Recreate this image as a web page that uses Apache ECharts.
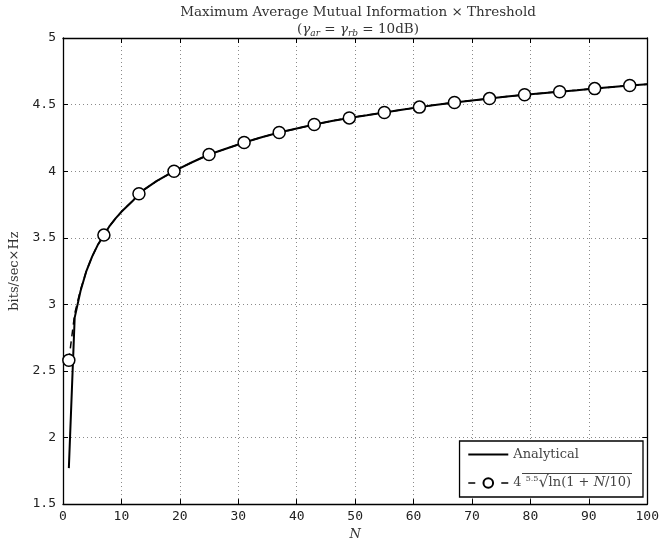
<!DOCTYPE html>
<html>
<head>
<meta charset="utf-8">
<script src="https://cdn.jsdelivr.net/npm/echarts@6/dist/echarts.min.js"></script>
<style>html,body{margin:0;padding:0;background:#fff;}#c{width:662px;height:546px;}</style>
</head>
<body>
<div id="c"></div>
<script>
// ---- data ----
const nValues = [1,2,3,4,5,6,7,8,9,10,12,13,14,16,19,22,25,28,31,34,37,40,43,46,49,52,55,58,61,64,67,70,73,76,79,82,85,88,91,94,97,100];
const analytical = [1.77,2.90,3.10,3.25,3.36,3.45,3.52,3.59,3.645,3.695,3.78,3.83,3.865,3.925,4.00,4.065,4.125,4.17,4.215,4.255,4.29,4.32,4.35,4.377,4.40,4.42,4.441,4.462,4.481,4.499,4.516,4.531,4.545,4.56,4.574,4.586,4.597,4.608,4.62,4.632,4.643,4.652];
const approx = [2.58,2.93,3.11,3.25,3.36,3.45,3.52,3.59,3.645,3.695,3.78,3.83,3.865,3.925,4.00,4.065,4.125,4.17,4.215,4.255,4.29,4.32,4.35,4.377,4.40,4.42,4.441,4.462,4.481,4.499,4.516,4.531,4.545,4.56,4.574,4.586,4.597,4.608,4.62,4.632,4.643,4.652];
const markerN = [1,7,13,19,25,31,37,43,49,55,61,67,73,79,85,91,97];
const xTicks = [0,10,20,30,40,50,60,70,80,90,100];
const yTicks = [1.5,2,2.5,3,3.5,4,4.5,5];
const seriesNames = ['Analytical', 'approx'];

const chart = echarts.init(document.getElementById('c'));
const mono = 'DejaVu Sans Mono';
const serif = 'DejaVu Serif';
const gridLine = {show: true, lineStyle: {color: '#8a8a8a', width: 1, type: [1, 3]}};

const axisCommon = {
  axisLine: {show: true, onZero: false, lineStyle: {color: '#000', width: 1.3}},
  axisTick: {show: true, inside: true, length: 5, lineStyle: {color: '#000'}},
  splitLine: {show: false}
};

chart.setOption({
  animation: false,
  backgroundColor: '#fff',
  title: {
    left: 353, top: -1, textAlign: 'center',
    text: 'Maximum Average Mutual Information × Threshold\n({g|γ}{s|ar} = {g|γ}{s|rb} = 10dB)',
    textStyle: {
      fontFamily: serif, fontSize: 13.5, fontWeight: 'normal', color: '#333', lineHeight: 17,
      rich: {
        g: {fontFamily: serif, fontStyle: 'italic', fontSize: 13.5, color: '#333'},
        s: {fontFamily: serif, fontStyle: 'italic', fontSize: 9, color: '#333', verticalAlign: 'bottom', padding: [6,0,0,0]}
      }
    }
  },
  grid: {left: 59, right: 14, top: 38, bottom: 40, containLabel: false},
  xAxis: [
    Object.assign({}, axisCommon, {
      type: 'value', min: xTicks[0], max: xTicks[xTicks.length-1], interval: 10,
      position: 'bottom',
      name: 'N', nameLocation: 'middle', nameGap: 22,
      nameTextStyle: {fontFamily: serif, fontStyle: 'italic', fontSize: 13, color: '#333'},
      axisLabel: {fontFamily: mono, fontSize: 13, color: '#222', margin: 6},
      splitLine: gridLine
    }),
    Object.assign({}, axisCommon, {
      type: 'value', min: xTicks[0], max: xTicks[xTicks.length-1], interval: 10,
      position: 'top', axisLabel: {show: false}
    })
  ],
  yAxis: [
    Object.assign({}, axisCommon, {
      type: 'value', min: yTicks[0], max: yTicks[yTicks.length-1], interval: 0.5,
      position: 'left',
      name: 'bits/sec×Hz', nameLocation: 'middle', nameGap: 42,
      nameTextStyle: {fontFamily: serif, fontSize: 13, color: '#333'},
      axisLabel: {fontFamily: mono, fontSize: 13, color: '#222', margin: 7,
        formatter: v => String(v)},
      splitLine: gridLine
    }),
    Object.assign({}, axisCommon, {
      type: 'value', min: yTicks[0], max: yTicks[yTicks.length-1], interval: 0.5,
      position: 'right', axisLabel: {show: false}
    })
  ],
  legend: {
    orient: 'vertical', right: 19, top: 441,
    data: [
      {name: seriesNames[0], icon: 'path://M0,0 L40,0 L40,2 L0,2 Z', itemStyle: {color: '#000'}},
      {name: seriesNames[1], lineStyle: {type: [7, 26], width: 1.5, color: '#000'}}
    ],
    backgroundColor: '#fff', borderColor: '#000', borderWidth: 1.3,
    padding: [7, 12, 6, 8], itemGap: 14, itemWidth: 40, itemHeight: 12,
    textStyle: {
      fontFamily: serif, fontSize: 13, color: '#444',
      rich: {
        sup: {fontFamily: serif, fontSize: 8, color: '#444', verticalAlign: 'top', padding: [0,0,6,0]},
        rad: {fontFamily: serif, fontSize: 16, color: '#444'},
        it: {fontFamily: serif, fontStyle: 'italic', fontSize: 13, color: '#444'},
        ov: {fontFamily: serif, fontSize: 13, color: '#444'}
      }
    },
    formatter: name => name === 'approx'
      ? '4 {sup|5.5}{rad|√}{ov|ln(1 + }{it|N}{ov|/10)}'
      : name
  },
  graphic: [
    {type: 'line', shape: {x1: 522, y1: 473.5, x2: 632, y2: 473.5}, style: {stroke: '#444', lineWidth: 1}, z: 200}
  ],
  series: [
    {
      name: seriesNames[0], type: 'line',
      data: nValues.map((n, i) => [n, analytical[i]]),
      showSymbol: false, symbol: 'none',
      lineStyle: {color: '#000', width: 2},
      itemStyle: {color: '#000'},
      z: 3
    },
    {
      name: seriesNames[1], type: 'line',
      data: nValues.map((n, i) => [n, approx[i]]),
      symbol: 'circle',
      symbolSize: (val) => markerN.indexOf(val[0]) >= 0 ? 12 : 0,
      showAllSymbol: true,
      lineStyle: {color: '#000', width: 1.5, type: [7, 5]},
      itemStyle: {color: '#fff', borderColor: '#000', borderWidth: 1.5},
      z: 4
    }
  ]
});
</script>
</body>
</html>
